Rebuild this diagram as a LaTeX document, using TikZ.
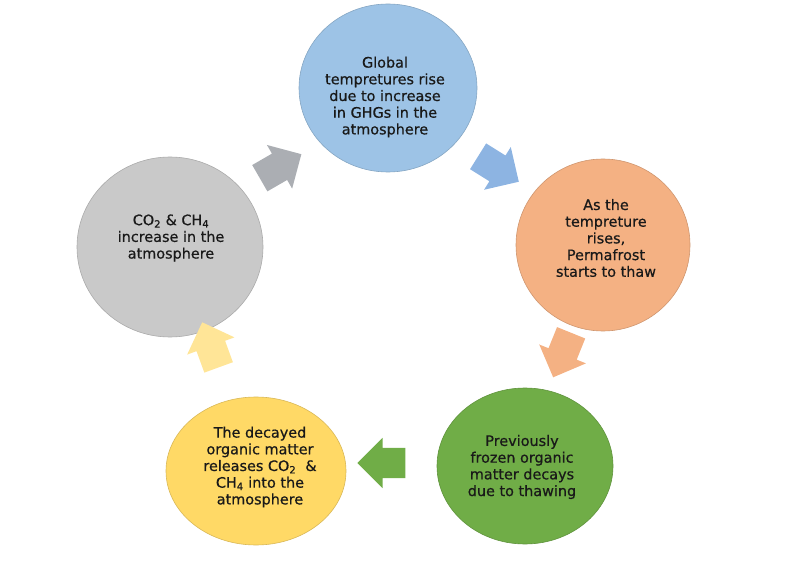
\documentclass[tikz,border=0pt]{standalone}
\usepackage{fontspec}
\setmainfont{DejaVu Sans}[FakeBold=0.6]
\usepackage{tikz}
\usetikzlibrary{shapes.geometric, shapes.arrows}

\begin{document}
\begin{tikzpicture}[x=1pt, y=-1pt, every node/.style={align=center, font=\fontsize{14.4}{16.7}\selectfont, text=black!90},
    bubble/.style={ellipse, draw=#1!85!black, fill=#1, line width=0.6pt, inner sep=0pt},
    flow/.style={single arrow, fill=#1, draw=none, minimum height=48pt, minimum width=50pt,
      single arrow head extend=10pt, inner xsep=0pt, inner ysep=15pt}]
      \definecolor{cblue}{HTML}{9DC3E6}
      \definecolor{corange}{HTML}{F4B183} \definecolor{cgreen}{HTML}{70AD47}
      \definecolor{cyellow}{HTML}{FFD966} \definecolor{cgrey}{HTML}{C9C9C9}
      \definecolor{agrey}{HTML}{ABAEB3} \definecolor{ablue}{HTML}{8DB4E2}
      \definecolor{ayellow}{HTML}{FFE597}
      \useasboundingbox (0,0) rectangle (811,561);
      % the five stages
      \node[bubble=cblue, minimum width=178pt, minimum height=168pt] (rise) at (388,88) {};
      \node[bubble=corange, minimum width=174pt, minimum height=172pt] (thaw) at (603,245) {};
      \node[bubble=cgreen, minimum width=176pt, minimum height=156pt] (decay) at (525,466) {};
      \node[bubble=cyellow, minimum width=180pt, minimum height=148pt] (release) at (256,471) {};
      \node[bubble=cgrey, minimum width=186pt, minimum height=180pt] (gas) at (170,247) {};
      \node (risetxt) at (385,97) {Global\\tempretures rise\\due to increase\\in GHGs in the\\atmosphere};
      \node (thawtxt) at (606,238) {As the\\tempreture\\rises,\\Permafrost\\starts to thaw};
      \node (decaytxt) at (522,467) {Previously\\frozen organic\\matter decays\\due to thawing};
      \node (releasetxt) at (260,467)
        {The decayed\\organic matter\\releases CO\textsubscript{2}\ \ \&\\CH\textsubscript{4} into the\\atmosphere};
      \node (gastxt) at (171,238) {CO\textsubscript{2} \& CH\textsubscript{4}\\increase in the\\atmosphere};
      % block arrows between them
      \node[flow=agrey, rotate=30] (a1) at (274,170) {};
      \node[flow=ablue, rotate=-32] (a2) at (492,165) {};
      \node[flow=corange, rotate=-112] (a3) at (565,348) {};
      \node[flow=cgreen, rotate=180] (a4) at (389,463) {};
      \node[flow=ayellow, rotate=110] (a5) at (213,352) {};
    \end{tikzpicture}
\end{document}
